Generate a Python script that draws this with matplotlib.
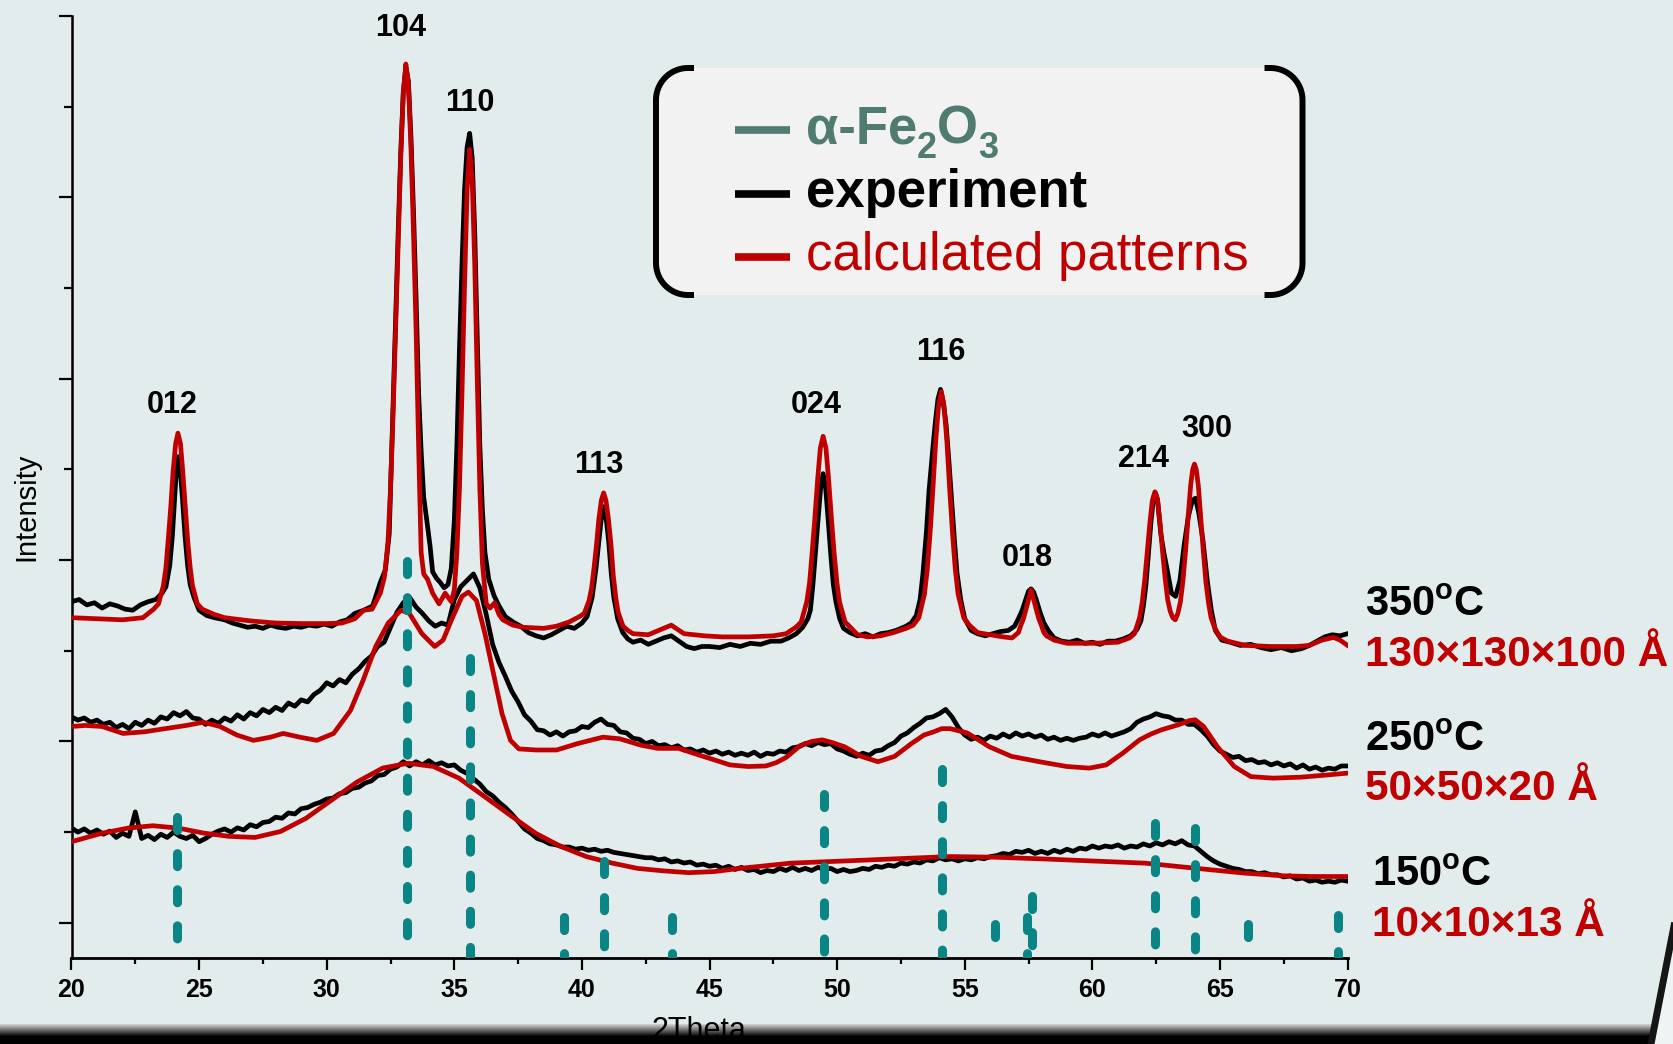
import numpy as np
import matplotlib
matplotlib.use("Agg")
from matplotlib import pyplot as plt


# ---- data (2theta in degrees, intensity in arbitrary units) ----
EXP_350 = np.array([
    (20.0, 334), (20.3, 336), (20.6, 331), (20.9, 333), (21.2, 328), (21.5, 332), (21.8, 330),
    (22.1, 327), (22.4, 326), (22.7, 331), (23.0, 334), (23.3, 336), (23.55, 342), (23.7, 348),
    (23.85, 368), (23.95, 395), (24.05, 435), (24.12, 462), (24.18, 470), (24.25, 460), (24.35, 430),
    (24.45, 395), (24.55, 368), (24.65, 350), (24.8, 338), (25.0, 326), (25.3, 321), (25.6, 319),
    (26.0, 317), (26.3, 314), (26.6, 312), (26.9, 310), (27.2, 311), (27.5, 309), (27.8, 312),
    (28.1, 310), (28.4, 309), (28.7, 311), (29.0, 310), (29.3, 312), (29.6, 311), (29.9, 313),
    (30.2, 311), (30.5, 315), (30.8, 317), (31.1, 323), (31.45, 326), (31.8, 330), (32.1, 352),
    (32.3, 364), (32.45, 398), (32.6, 520), (32.7, 600), (32.8, 680), (32.9, 755), (33.0, 812),
    (33.1, 835), (33.2, 822), (33.3, 770), (33.4, 700), (33.5, 620), (33.6, 530), (33.7, 475),
    (33.8, 432), (33.9, 414), (34.05, 386), (34.15, 362), (34.3, 356), (34.45, 352), (34.6, 347),
    (34.75, 350), (34.88, 365), (35.0, 410), (35.1, 480), (35.2, 570), (35.3, 650), (35.4, 720),
    (35.5, 760), (35.6, 773), (35.7, 750), (35.8, 680), (35.9, 580), (36.0, 480), (36.1, 420),
    (36.2, 380), (36.35, 355), (36.55, 340), (36.75, 330), (37.0, 320), (37.3, 315), (37.6, 311),
    (37.9, 305), (38.2, 302), (38.5, 300), (38.8, 303), (39.1, 307), (39.4, 311), (39.7, 309),
    (40.0, 314), (40.2, 320), (40.4, 338), (40.55, 365), (40.65, 388), (40.75, 410), (40.85, 423),
    (40.95, 412), (41.05, 390), (41.15, 360), (41.25, 338), (41.4, 318), (41.6, 305), (41.8, 299),
    (42.0, 296), (42.3, 298), (42.6, 294), (42.9, 297), (43.2, 300), (43.5, 302), (43.8, 297),
    (44.1, 292), (44.4, 290), (44.7, 292), (45.0, 292), (45.4, 291), (45.8, 294), (46.2, 292),
    (46.6, 295), (47.0, 294), (47.4, 297), (47.8, 297), (48.1, 300), (48.4, 304), (48.65, 310),
    (48.85, 318), (48.95, 326), (49.05, 350), (49.15, 380), (49.25, 410), (49.35, 440), (49.45, 454),
    (49.55, 440), (49.65, 410), (49.75, 378), (49.85, 350), (49.95, 334), (50.1, 318), (50.25, 309),
    (50.5, 305), (50.8, 302), (51.1, 304), (51.4, 301), (51.7, 304), (52.0, 305), (52.3, 307),
    (52.7, 311), (52.9, 314), (53.1, 321), (53.25, 336), (53.36, 360), (53.5, 400), (53.6, 438),
    (53.75, 478), (53.85, 503), (53.95, 524), (54.05, 533), (54.15, 522), (54.27, 500), (54.38, 465),
    (54.49, 428), (54.6, 390), (54.7, 360), (54.85, 335), (55.0, 318), (55.25, 307), (55.5, 304),
    (55.8, 302), (56.1, 304), (56.4, 306), (56.7, 307), (56.95, 311), (57.1, 318), (57.25, 326),
    (57.4, 337), (57.5, 344), (57.6, 346), (57.7, 343), (57.8, 336), (57.95, 324), (58.1, 314),
    (58.3, 306), (58.5, 300), (58.8, 297), (59.1, 296), (59.4, 298), (59.7, 295), (60.0, 296),
    (60.3, 294), (60.6, 297), (60.9, 297), (61.2, 299), (61.5, 302), (61.75, 308), (61.9, 316),
    (62.0, 330), (62.1, 350), (62.2, 380), (62.3, 410), (62.4, 432), (62.47, 436), (62.55, 430),
    (62.68, 398), (62.8, 380), (62.93, 364), (63.1, 342), (63.26, 339), (63.43, 354), (63.59, 386),
    (63.76, 414), (63.92, 429), (64.04, 431), (64.17, 417), (64.33, 392), (64.5, 354), (64.66, 326),
    (64.82, 307), (65.07, 298), (65.4, 296), (65.8, 293), (66.2, 294), (66.6, 291), (67.0, 289),
    (67.4, 291), (67.8, 288), (68.2, 290), (68.5, 293), (68.8, 297), (69.1, 301), (69.4, 303),
    (69.7, 302), (70.0, 304),
])

CALC_350 = np.array([
    (20.0, 319), (21.0, 318), (22.0, 317), (22.8, 319), (23.22, 327), (23.41, 332), (23.6, 349),
    (23.7, 366), (23.79, 392), (23.89, 423), (23.98, 456), (24.08, 482), (24.17, 492), (24.27, 482),
    (24.36, 456), (24.46, 423), (24.55, 392), (24.65, 366), (24.74, 349), (24.93, 332), (25.12, 327),
    (25.6, 322), (26.0, 319), (27.0, 316), (28.0, 314), (29.0, 313.5), (30.0, 313.5), (30.6, 314),
    (31.1, 318), (31.45, 326), (31.78, 327), (32.1, 342), (32.26, 357), (32.4, 390), (32.5, 440),
    (32.6, 510), (32.7, 590), (32.8, 670), (32.9, 750), (33.0, 810), (33.1, 838), (33.2, 820),
    (33.3, 760), (33.4, 680), (33.5, 590), (33.6, 480), (33.7, 380), (33.8, 360), (33.95, 355),
    (34.15, 342), (34.4, 332), (34.64, 342), (34.88, 334), (35.0, 345), (35.1, 380), (35.2, 440),
    (35.3, 530), (35.4, 630), (35.5, 720), (35.6, 758), (35.7, 730), (35.8, 650), (35.9, 540),
    (36.0, 440), (36.1, 370), (36.25, 332), (36.4, 328), (36.58, 333), (36.75, 322), (36.9, 317),
    (37.3, 312), (37.7, 310), (38.5, 309), (39.0, 311), (39.5, 315), (39.9, 320), (40.09, 323),
    (40.28, 335), (40.38, 347), (40.47, 365), (40.57, 387), (40.66, 411), (40.76, 429), (40.85, 436),
    (40.94, 429), (41.04, 411), (41.14, 387), (41.23, 358), (41.33, 337), (41.42, 324), (41.61, 311),
    (41.8, 307), (42.0, 304), (42.6, 303), (43.0, 307), (43.5, 312), (44.0, 304), (44.8, 302),
    (45.5, 301), (46.5, 301), (47.5, 302), (48.0, 304), (48.38, 310), (48.59, 315), (48.81, 334),
    (48.92, 352), (49.02, 380), (49.13, 414), (49.24, 450), (49.34, 478), (49.45, 489), (49.56, 478),
    (49.66, 450), (49.77, 414), (49.88, 380), (49.99, 352), (50.09, 334), (50.31, 315), (50.52, 310),
    (50.8, 303), (51.2, 301), (51.7, 302), (52.2, 305), (52.7, 309), (52.98, 312), (53.2, 319),
    (53.42, 341), (53.53, 364), (53.64, 398), (53.75, 439), (53.86, 484), (53.97, 517), (54.08, 531),
    (54.19, 517), (54.3, 484), (54.41, 439), (54.52, 398), (54.63, 364), (54.74, 341), (54.96, 319),
    (55.18, 312), (55.5, 305), (56.0, 303), (56.5, 301), (56.85, 300), (57.0, 303), (57.1, 305),
    (57.2, 312), (57.3, 318), (57.4, 327), (57.5, 336), (57.6, 345), (57.7, 336), (57.8, 327),
    (57.9, 318), (58.0, 312), (58.1, 305), (58.2, 302), (58.5, 298), (59.0, 295), (60.0, 295),
    (61.0, 296), (61.45, 300), (61.65, 304), (61.85, 319), (61.95, 333), (62.05, 354), (62.15, 380),
    (62.25, 407), (62.35, 429), (62.45, 437), (62.55, 430), (62.65, 408), (62.75, 381), (62.85, 356),
    (62.95, 336), (63.05, 325), (63.15, 319), (63.25, 317), (63.35, 323), (63.45, 334), (63.55, 354),
    (63.65, 381), (63.75, 413), (63.85, 443), (63.93, 458), (64.0, 463), (64.07, 458), (64.15, 443),
    (64.25, 412), (64.35, 380), (64.45, 352), (64.55, 333), (64.65, 319), (64.8, 309), (65.0, 301),
    (65.3, 297), (66.0, 293), (67.0, 292), (68.0, 292), (68.5, 293), (69.0, 298), (69.45, 300.5),
    (69.7, 298), (70.0, 293),
])

# 250 and 150 C scans, 0.25 deg step from 20 to 70
scan_tth = np.linspace(20, 70, 201)

exp_250 = [
    226, 223, 225, 221, 223, 219, 221, 216, 219, 215, 221, 218, 223, 220, 226, 224,
    230, 227, 231, 225, 224, 219, 223, 220, 225, 222, 228, 224, 230, 227, 233, 230,
    235, 232, 239, 236, 242, 240, 247, 251, 258, 255, 261, 258, 266, 271, 278, 283,
    292, 296, 310, 324, 333, 338, 329, 323, 316, 311, 314, 312, 336, 348, 354, 360,
    347, 322, 294, 277, 264, 250, 240, 228, 222, 214, 213, 209, 212, 208, 212, 213,
    217, 216, 221, 224, 219, 218, 212, 211, 206, 205, 201, 203, 199, 200, 197, 199,
    195, 196, 193, 195, 192, 194, 191, 193, 190, 192, 190, 193, 189, 192, 191, 194,
    193, 197, 198, 201, 199, 202, 200, 201, 196, 194, 191, 189, 192, 190, 194, 195,
    199, 202, 208, 211, 216, 220, 225, 226, 229, 233, 226, 216, 209, 205, 207, 204,
    208, 206, 210, 207, 211, 208, 210, 207, 209, 205, 207, 204, 206, 204, 206, 207,
    210, 208, 211, 208, 210, 212, 215, 221, 224, 226, 229, 227, 226, 223, 223, 219,
    219, 214, 208, 200, 194, 191, 188, 189, 185, 186, 183, 184, 181, 183, 180, 182,
    178, 181, 177, 179, 176, 178, 177, 180, 180,
]

exp_150 = [
    122, 118, 121, 117, 120, 116, 119, 113, 117, 114, 137, 112, 115, 111, 116, 113,
    118, 114, 112, 115, 109, 112, 116, 119, 121, 118, 122, 120, 125, 123, 127, 128,
    132, 131, 136, 135, 140, 141, 144, 146, 149, 150, 154, 155, 159, 160, 164, 166,
    171, 172, 177, 179, 184, 180, 184, 181, 185, 181, 183, 180, 181, 176, 173, 168,
    163, 156, 152, 146, 141, 135, 128, 121, 117, 112, 110, 107, 106, 104, 104, 102,
    103, 101, 102, 100, 101, 99, 98, 97, 96, 95, 94, 94, 92, 93, 90, 91,
    89, 90, 87, 88, 86, 87, 84, 86, 83, 85, 82, 83, 80, 82, 81, 84,
    82, 85, 82, 84, 82, 85, 83, 84, 81, 83, 81, 82, 84, 83, 86, 85,
    87, 86, 89, 88, 90, 89, 92, 91, 94, 92, 93, 91, 93, 92, 94, 93,
    95, 96, 98, 97, 100, 99, 101, 98, 100, 98, 101, 99, 102, 100, 103, 102,
    105, 103, 105, 104, 106, 103, 105, 104, 107, 105, 108, 106, 109, 107, 110, 106,
    105, 100, 95, 91, 88, 86, 84, 83, 81, 81, 79, 80, 78, 78, 76, 77,
    74, 75, 72, 73, 71, 72, 71, 73, 72,
]

CALC_250 = np.array([
    (20.0, 217), (20.54, 218), (21.2, 217), (22.02, 210.5), (22.85, 212), (23.67, 215), (24.5, 218),
    (25.16, 221), (25.82, 217), (26.48, 209), (27.13, 204), (27.8, 207), (28.29, 210.5), (28.95, 207),
    (29.61, 204), (30.27, 210.5), (30.93, 232), (31.42, 260), (31.92, 292), (32.41, 314), (32.91, 326),
    (33.24, 323), (33.73, 304), (34.23, 292), (34.56, 298), (34.89, 317), (35.3, 339), (35.55, 343),
    (35.87, 335), (36.2, 304), (36.53, 267), (36.87, 229), (37.2, 204), (37.53, 196), (38.19, 195),
    (39.01, 195), (39.83, 201), (40.82, 207), (41.48, 205.5), (42.31, 199.5), (42.97, 196.5),
    (43.79, 196.5), (44.62, 190), (45.28, 185), (45.8, 181), (46.5, 179.5), (47.2, 180), (47.6, 183),
    (48.0, 188), (48.55, 199), (49.0, 203), (49.42, 204.5), (49.8, 202), (50.29, 198), (50.94, 189),
    (51.6, 184), (52.25, 189), (52.91, 201), (53.4, 209), (53.78, 212), (54.1, 215), (54.43, 215),
    (55.09, 211), (55.5, 205), (55.96, 198), (56.83, 189), (57.92, 184), (59.0, 179.5), (59.88, 178),
    (60.54, 181), (61.19, 192), (61.85, 204.5), (62.3, 210), (62.72, 214), (63.37, 218.6),
    (63.81, 222.6), (64.03, 223.3), (64.36, 217), (64.9, 198), (65.56, 179.5), (66.21, 170),
    (67.08, 168.6), (68.17, 169.5), (69.26, 171.7), (70.0, 173.3),
])

CALC_150 = np.array([
    (20.0, 109), (21.2, 117), (22.2, 121.7), (23.19, 124), (24.2, 121.7), (25.2, 117), (26.19, 114),
    (27.19, 113), (28.19, 118.6), (29.19, 131), (30.19, 148), (31.19, 165), (32.19, 178),
    (33.19, 182.6), (34.18, 179.5), (35.18, 168.6), (36.18, 151.4), (37.18, 134), (38.18, 117),
    (39.18, 104.5), (40.18, 95), (41.18, 89), (42.18, 84), (43.18, 81.7), (44.18, 80), (45.18, 81),
    (46.18, 84), (47.17, 86.4), (48.17, 88.9), (50.73, 91.4), (52.91, 93.6), (54.43, 95.1),
    (56.18, 94.5), (58.36, 92.6), (60.54, 90.4), (62.07, 88.9), (63.37, 85.75), (64.68, 82.6),
    (66.0, 79.5), (67.52, 77), (68.6, 76.4), (70.0, 76.4),
])

# alpha-Fe2O3 reference reflections: position and drawn height
ref_tth = [24.15, 33.15, 35.63, 39.3, 40.87, 43.53, 49.47, 54.1, 56.18, 57.45, 57.65, 62.46, 64.04, 66.08, 69.64]
ref_top = [132, 372, 281, 38, 91, 38, 154, 177, 32, 38, 58, 127, 122, 32, 40]

peak_hkl = ["012", "104", "110", "113", "024", "116", "018", "214", "300"]
peak_lbl_x = [23.96, 32.88, 35.59, 40.68, 49.19, 54.07, 57.44, 62.02, 64.47]
peak_lbl_y = [518, 872, 801, 462, 518, 568, 375, 468, 496]

temps = [r"350$^{\mathbf{o}}$C", r"250$^{\mathbf{o}}$C", r"150$^{\mathbf{o}}$C"]
sizes = ["130×130×100 Å", "50×50×20 Å", "10×10×13 Å"]

# ---- style ----
plt.rcParams["font.family"] = ["Liberation Sans", "DejaVu Sans"]
plt.rcParams["mathtext.fontset"] = "custom"
plt.rcParams["mathtext.rm"] = "Liberation Sans"
plt.rcParams["mathtext.bf"] = "Liberation Sans:bold"
plt.rcParams["mathtext.it"] = "Liberation Sans:italic"

BG = "#e2ecec"
RED = "#c00000"
TEAL = "#0a8585"
PHASE = "#4f7b71"

W, H = 1673, 1044
fig = plt.figure(figsize=(W / 100, H / 100), dpi=100, facecolor=BG)
ax = fig.add_axes([71.5 / W, 1 - 958 / H, (1347.6 - 71.5) / W, (958 - 16) / H])
ax.set_facecolor("none")

# traces
for tth, inten in [(EXP_350[:, 0], EXP_350[:, 1]), (scan_tth, exp_250), (scan_tth, exp_150)]:
    ax.plot(tth, inten, color="black", lw=3.4, solid_joinstyle="round", zorder=2)
for calc in [CALC_350, CALC_250, CALC_150]:
    ax.plot(calc[:, 0], calc[:, 1], color=RED, lw=3.4, solid_joinstyle="round", zorder=3)

# reference sticks, dashed from the top down to the axis
for pos, top in zip(ref_tth, ref_top):
    ax.plot([pos, pos], [top, 0], color=TEAL, lw=6.5, dashes=(1.45, 2.55),
            dash_capstyle="round", zorder=4)

for lbl, x, y in zip(peak_hkl, peak_lbl_x, peak_lbl_y):
    ax.text(x, y, lbl, ha="center", va="center", fontsize=22, fontweight="bold", clip_on=False)

temp_y = [331, 204, 78]
size_y = [284, 158, 31]
lbl_x = [70.68, 70.68, 70.94]
for t, s, x, ty, sy in zip(temps, sizes, lbl_x, temp_y, size_y):
    ax.text(x, ty, t, ha="left", va="center", fontsize=30, fontweight="bold", clip_on=False)
    ax.text(x, sy, s, ha="left", va="center", fontsize=30.5, fontweight="bold", color=RED, clip_on=False)

ax.set_xlim(20, 70)
ax.set_ylim(0, 883)
ax.spines[["top", "right"]].set_visible(False)
ax.spines["left"].set_linewidth(1.8)
ax.spines["bottom"].set_linewidth(2.0)
ax.set_xticks(np.arange(20, 71, 5))
ax.set_xticks(np.arange(22.5, 70, 5), minor=True)
ax.set_yticks([33, 203, 373, 543, 713, 883])
ax.set_yticks([118, 288, 458, 628, 798], minor=True)
ax.set_yticklabels([])
ax.set_xticklabels([str(v) for v in range(20, 71, 5)], fontsize=18, fontweight="bold")
ax.tick_params(axis="x", which="major", direction="out", length=8.4, width=1.6, pad=6)
ax.tick_params(axis="x", which="minor", direction="out", length=4.5, width=1.6)
ax.tick_params(axis="y", which="major", direction="out", length=9.5, width=1.6)
ax.tick_params(axis="y", which="minor", direction="out", length=5.8, width=1.6)

fig.text(26.7 / W, 1 - 507 / H, "Intensity", rotation=90, ha="center", va="center", fontsize=21)

# ---- overlay in pixel coordinates: legend box, slide edge ----
ov = fig.add_axes([0, 0, 1, 1], zorder=10)
ov.axis("off")
ov.patch.set_alpha(0)
ov.set_xlim(0, W)
ov.set_ylim(H, 0)


def rounded_rect(x0, y0, x1, y1, r):
    t = np.linspace(0, np.pi / 2, 20)
    xs = np.concatenate([x1 - r + r * np.sin(t), x1 - r + r * np.cos(t),
                         x0 + r - r * np.sin(t), x0 + r - r * np.cos(t)])
    ys = np.concatenate([y0 + r - r * np.cos(t), y1 - r + r * np.sin(t),
                         y1 - r + r * np.cos(t), y0 + r - r * np.sin(t)])
    return xs, ys


bx0, by0, bx1, by1, rad = 656, 68, 1302.5, 295, 32
xs, ys = rounded_rect(bx0, by0, bx1, by1, rad)
ov.fill(xs, ys, color="#f2f2f2", lw=0)

t = np.linspace(0, np.pi / 2, 20)
left_x = np.concatenate([[694], bx0 + rad - rad * np.sin(t), bx0 + rad - rad * np.cos(t), [694]])
left_y = np.concatenate([[by0], by0 + rad - rad * np.cos(t), by1 - rad + rad * np.sin(t), [by1]])
ov.plot(left_x, left_y, color="black", lw=4.3, solid_capstyle="butt")
ov.plot(bx0 + bx1 - left_x, left_y, color="black", lw=4.3, solid_capstyle="butt")

# legend entries
ov.plot([735, 790], [130, 130], color=PHASE, lw=5.5, solid_capstyle="butt")
ov.plot([735, 790], [194, 194], color="black", lw=5.5, solid_capstyle="butt")
ov.plot([735, 790], [257, 257], color=RED, lw=5.5, solid_capstyle="butt")
ov.text(806, 207, "experiment", color="black", fontweight="bold", fontsize=38, va="baseline")
ov.text(806, 270, "calculated patterns", color=RED, fontsize=38, va="baseline")

# alpha-Fe2O3 built piece by piece so the subscripts sit tight like the original
renderer = fig.canvas.get_renderer()
xpos = 806
for piece, size, drop in [("α-Fe", 38, 0), ("2", 26, 15), ("O", 38, 0), ("3", 26, 15)]:
    txt = ov.text(xpos, 143 + drop, piece, color=PHASE, fontweight="bold", fontsize=size,
                  va="baseline", ha="left")
    xpos += txt.get_window_extent(renderer=renderer).width

# dark slide edge at the bottom and the bottom-right corner
grad = np.concatenate([np.linspace(0.8, 0.05, 12), np.zeros(8)])[:, None]
ov.imshow(grad, extent=(0, W, H, 1024), aspect="auto", cmap="gray", vmin=0, vmax=1, zorder=5)
ov.fill([W, W, 1651], [928, H, H], color="#eef3f3", lw=0, zorder=6)
ov.plot([W + 1, 1651], [926, H], color="#151515", lw=5, zorder=7)
ov.text(699, 1039, "2Theta", ha="center", va="baseline", fontsize=22, zorder=8)
ov.set_xlim(0, W)
ov.set_ylim(H, 0)

fig.savefig("out.png", dpi=100, facecolor=BG)
